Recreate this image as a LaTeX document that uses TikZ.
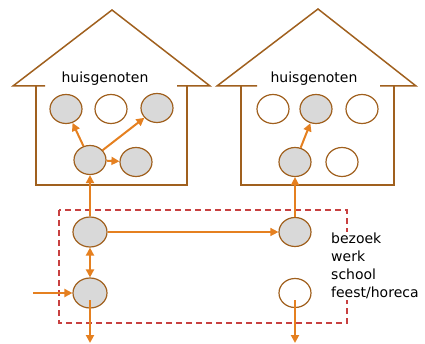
\documentclass[tikz,border=0pt]{standalone}
\usepackage{fontspec}
\setmainfont{DejaVu Sans}
\usetikzlibrary{arrows.meta,shapes.geometric}
\definecolor{brn}{HTML}{A0601E}
\definecolor{org}{HTML}{E58020}
\definecolor{gry}{HTML}{D9D9D9}
\definecolor{rdd}{HTML}{C84040}
\begin{document}
\begin{tikzpicture}[x=1pt,y=-1pt,
  house/.style={draw=brn,line width=1.5pt,line join=miter},
  person/.style={ellipse,draw=brn,line width=1.2pt,minimum width=32pt,minimum height=29pt,inner sep=0pt},
  on/.style={person,fill=gry},
  off/.style={person,fill=white},
  flow/.style={draw=org,line width=2pt,-{Triangle[length=8pt,width=8pt]}},
  thin/.style={draw=org,line width=1.5pt,-{Triangle[length=8pt,width=8pt]}},
  lbl/.style={font=\fontsize{14}{18}\selectfont,text=black}]
\useasboundingbox (0,0) rectangle (425,344);
% dashed area
\draw[rdd,line width=1.2pt,dash pattern=on 6pt off 4pt] (59,210) rectangle (347,323);
\node[lbl,fill=white,anchor=west,align=left,inner sep=1pt] (places) at (330,266) {bezoek\\werk\\school\\feest/horeca};
% left house
\draw[house] (45,86) -- (13,86) -- (112,10) -- (210,86) -- (177,86);
\draw[house] (36,86) -- (36,185) -- (187,185) -- (187,86);
\node[lbl] (t1) at (105,79) {huisgenoten};
% right house
\draw[house] (257,86) -- (217,86) -- (318,9) -- (416,86) -- (380,86);
\draw[house] (241,86) -- (241,185) -- (394,185) -- (394,86);
\node[lbl] (t2) at (314,79) {huisgenoten};
% people left house
\node[on]  (L1) at (66,109) {};
\node[off] (L2) at (111,109) {};
\node[on]  (L3) at (157,108) {};
\node[on]  (L4) at (90,160) {};
\node[on]  (L5) at (136,162) {};
% people right house
\node[off] (R1) at (273,109) {};
\node[on]  (R2) at (316,109) {};
\node[off] (R3) at (362,109) {};
\node[on]  (R4) at (295,162) {};
\node[off] (R5) at (342,162) {};
% outside
\node[on,minimum width=34pt,minimum height=30pt]  (A) at (90,232) {};
\node[on,minimum width=34pt,minimum height=30pt]  (B) at (90,293) {};
\node[on]  (C) at (295,232) {};
\node[off] (D) at (295,293) {};
\coordinate (in) at (33,293);
\coordinate (outB) at (90,343);
\coordinate (outD) at (295,343);
% connectors
\draw[flow] (L4) -- (L1);
\draw[flow] (L4) -- (L3);
\draw[flow] (L4) -- (L5);
\draw[flow] (A) -- (L4);
\draw[thin] (A) -- (C);
\draw[thin] (C) -- (R4);
\draw[flow] (R4) -- (R2);
\draw[flow,{Triangle[length=8pt,width=8pt]}-{Triangle[length=8pt,width=8pt]}] (A) -- (B);
\draw[flow] (in) -- (B);
\draw[flow] ([yshift=-7pt]B.center) -- (outB);
\draw[flow] ([yshift=-7pt]D.center) -- (outD);
\end{tikzpicture}
\end{document}
